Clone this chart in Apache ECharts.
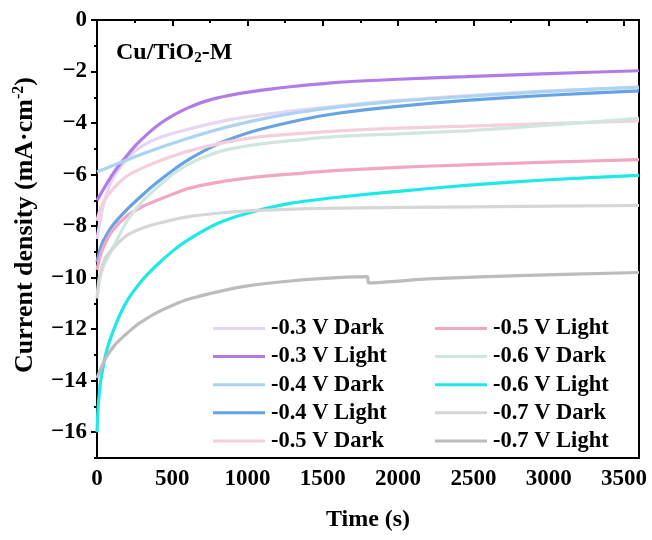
<!DOCTYPE html>
<html><head><meta charset="utf-8">
<script src="https://cdn.jsdelivr.net/npm/echarts@6/dist/echarts.min.js"></script>
<style>html,body{margin:0;padding:0;background:#fff}#c{width:652px;height:540px}</style>
</head><body><div id="c"></div>
<script>
// ---- data (time in s, current density in mA·cm^-2) ----
const T_03D = [0, 50, 120, 250, 400, 600, 900, 1200, 1500, 2000, 2500, 3000, 3600];
const V_03D = [-8.5, -7.0, -6.0, -5.1, -4.6, -4.25, -3.85, -3.6, -3.4, -3.12, -2.92, -2.75, -2.62];
const T_03L = [0, 30, 60, 120, 180, 260, 340, 420, 500, 600, 750, 950, 1150, 1300, 1600, 2000, 2450, 3000, 3600];
const V_03L = [-7.0, -6.7, -6.4, -5.85, -5.4, -4.85, -4.4, -4.02, -3.72, -3.42, -3.1, -2.85, -2.68, -2.58, -2.42, -2.3, -2.2, -2.08, -1.97];
const T_04D = [0, 300, 600, 900, 1200, 1500, 2000, 2500, 3000, 3600];
const V_04D = [-5.9, -5.2, -4.6, -4.1, -3.72, -3.45, -3.15, -2.95, -2.77, -2.6];
const T_04L = [0, 15, 40, 100, 200, 300, 400, 500, 600, 720, 850, 1050, 1350, 1600, 2000, 2450, 3000, 3600];
const V_04L = [-9.4, -9.0, -8.6, -8.0, -7.35, -6.8, -6.3, -5.85, -5.45, -5.05, -4.7, -4.3, -3.88, -3.62, -3.35, -3.12, -2.92, -2.75];
const T_05D = [0, 15, 40, 100, 200, 300, 400, 600, 850, 1100, 1350, 1600, 2000, 2450, 3000, 3600];
const V_05D = [-7.8, -7.45, -7.1, -6.6, -6.05, -5.75, -5.5, -5.1, -4.75, -4.52, -4.4, -4.3, -4.2, -4.12, -4.02, -3.92];
const T_05L = [0, 15, 40, 100, 200, 300, 400, 600, 800, 1050, 1350, 1600, 2000, 2450, 3000, 3600];
const V_05L = [-9.7, -9.3, -8.85, -8.2, -7.6, -7.25, -7.0, -6.55, -6.3, -6.1, -5.95, -5.84, -5.72, -5.62, -5.52, -5.42];
const T_06D = [0, 15, 40, 100, 200, 300, 400, 500, 600, 720, 850, 1100, 1350, 1600, 2000, 2450, 3000, 3600];
const V_06D = [-10.8, -10.2, -9.6, -8.9, -7.8, -7.05, -6.5, -6.0, -5.62, -5.3, -5.05, -4.8, -4.65, -4.52, -4.42, -4.3, -4.08, -3.82];
const T_06L = [0, 8, 25, 66, 133, 200, 300, 400, 500, 600, 800, 1000, 1300, 1600, 2000, 2450, 3000, 3600];
const V_06L = [-16.0, -15.0, -14.0, -12.8, -11.7, -10.9, -10.1, -9.5, -8.98, -8.55, -7.9, -7.5, -7.1, -6.88, -6.65, -6.42, -6.2, -6.03];
const T_07D = [0, 15, 50, 100, 200, 300, 400, 600, 800, 1000, 1300, 1600, 2500, 3600];
const V_07D = [-10.8, -10.0, -9.3, -8.9, -8.35, -8.08, -7.9, -7.64, -7.5, -7.41, -7.34, -7.3, -7.25, -7.2];
const T_07L = [0, 20, 60, 120, 173, 240, 300, 400, 500, 600, 800, 1000, 1300, 1600, 1795, 1805, 2200, 2800, 3600];
const V_07L = [-13.9, -13.6, -13.1, -12.6, -12.3, -11.95, -11.7, -11.35, -11.08, -10.85, -10.55, -10.32, -10.12, -10.0, -9.96, -10.2, -10.05, -9.92, -9.8];

const NAMES = ['-0.3 V Dark', '-0.3 V Light', '-0.4 V Dark', '-0.4 V Light', '-0.5 V Dark',
               '-0.5 V Light', '-0.6 V Dark', '-0.6 V Light', '-0.7 V Dark', '-0.7 V Light'];
const COLORS = ['#e4d6f4', '#b27ce8', '#acd4f2', '#67a3e4', '#f6cedc',
                '#f1a6c3', '#cfe7e0', '#1fe8e8', '#d6d6d6', '#bcbcbc'];
const TIMES = [T_03D, T_03L, T_04D, T_04L, T_05D, T_05L, T_06D, T_06L, T_07D, T_07L];
const VALUES = [V_03D, V_03L, V_04D, V_04L, V_05D, V_05L, V_06D, V_06L, V_07D, V_07L];

const X_TICKS = [0, 500, 1000, 1500, 2000, 2500, 3000, 3500];
const X_MINOR = [250, 750, 1250, 1750, 2250, 2750, 3250];
const Y_TICKS = [-16, -14, -12, -10, -8, -6, -4, -2, 0];
const Y_MINOR = [-17, -15, -13, -11, -9, -7, -5, -3, -1];

const FONT = "'Liberation Serif', 'Times New Roman', serif";

const series = NAMES.map((n, i) => ({
  name: n, type: 'line', xAxisIndex: 0, yAxisIndex: 0,
  data: TIMES[i].map((t, j) => [t, VALUES[i][j]]),
  showSymbol: false, symbol: 'none', smooth: 0.25,
  lineStyle: { color: COLORS[i], width: 3.2 }, itemStyle: { color: COLORS[i] },
  silent: true, animation: false
}));

const legendBase = {
  orient: 'vertical', icon: 'rect', itemWidth: 52, itemHeight: 3, itemGap: 5.1,
  textStyle: { fontFamily: FONT, fontWeight: 'bold', fontSize: 22.5, color: '#000', lineHeight: 22, padding: [0, 0, 0, 1] },
  padding: 0, selectedMode: false
};

const chart = echarts.init(document.getElementById('c'), null, { renderer: 'canvas' });
chart.setOption({
  backgroundColor: '#fff',
  animation: false,
  grid: { left: 97, right: 13, top: 20, bottom: 82, show: true, borderColor: '#000', borderWidth: 2, backgroundColor: 'transparent' },
  title: {
    text: '{a|Cu/TiO}{s|2}{a|-M}', left: 111, top: 35,
    textStyle: { rich: {
      a: { fontFamily: FONT, fontWeight: 'bold', fontSize: 24, color: '#000' },
      s: { fontFamily: FONT, fontWeight: 'bold', fontSize: 15, color: '#000', verticalAlign: 'bottom', padding: [11, 0, 0, 0] }
    } }
  },
  legend: [
    Object.assign({}, legendBase, { data: NAMES.slice(0, 5), left: 213, top: 317 }),
    Object.assign({}, legendBase, { data: NAMES.slice(5), left: 435, top: 317 })
  ],
  xAxis: [{
    type: 'value', min: 0, max: 3600, position: 'bottom',
    name: 'Time (s)', nameLocation: 'middle', nameGap: 50,
    nameTextStyle: { fontFamily: FONT, fontWeight: 'bold', fontSize: 24, color: '#000' },
    axisLine: { show: true, lineStyle: { color: '#000', width: 2 } },
    axisTick: { show: true, inside: false, length: 6, lineStyle: { color: '#000', width: 2 }, customValues: X_TICKS },
    axisLabel: { show: true, margin: 10, customValues: X_TICKS, fontFamily: FONT, fontWeight: 'bold', fontSize: 23, color: '#000',
      formatter: v => String(v) },
    splitLine: { show: false }
  }, {
    type: 'value', min: 0, max: 3600, position: 'bottom',
    axisLine: { show: false },
    axisTick: { show: true, inside: false, length: 3, lineStyle: { color: '#000', width: 2 }, customValues: X_MINOR },
    axisLabel: { show: false }, splitLine: { show: false }
  }],
  yAxis: [{
    type: 'value', min: -17, max: 0, position: 'left',
    name: '{a|Current density (mA·cm}{s|-2}{a|)}', nameLocation: 'middle', nameGap: 58, nameRotate: 90,
    nameTextStyle: { padding: [0, 0, 0, 28], rich: {
      a: { fontFamily: FONT, fontWeight: 'bold', fontSize: 26, color: '#000' },
      s: { fontFamily: FONT, fontWeight: 'bold', fontSize: 16, color: '#000', verticalAlign: 'top', padding: [0, 0, 12, 0] }
    } },
    axisLine: { show: true, lineStyle: { color: '#000', width: 2 } },
    axisTick: { show: true, inside: false, length: 6, lineStyle: { color: '#000', width: 2 }, customValues: Y_TICKS },
    axisLabel: { show: true, margin: 10, customValues: Y_TICKS, fontFamily: FONT, fontWeight: 'bold', fontSize: 23, color: '#000',
      formatter: v => (v < 0 ? '\u2212' + Math.abs(v) : String(v)) },
    splitLine: { show: false }
  }, {
    type: 'value', min: -17, max: 0, position: 'left',
    axisLine: { show: false },
    axisTick: { show: true, inside: false, length: 3, lineStyle: { color: '#000', width: 2 }, customValues: Y_MINOR },
    axisLabel: { show: false }, splitLine: { show: false }
  }],
  series: series
});
</script></body></html>
